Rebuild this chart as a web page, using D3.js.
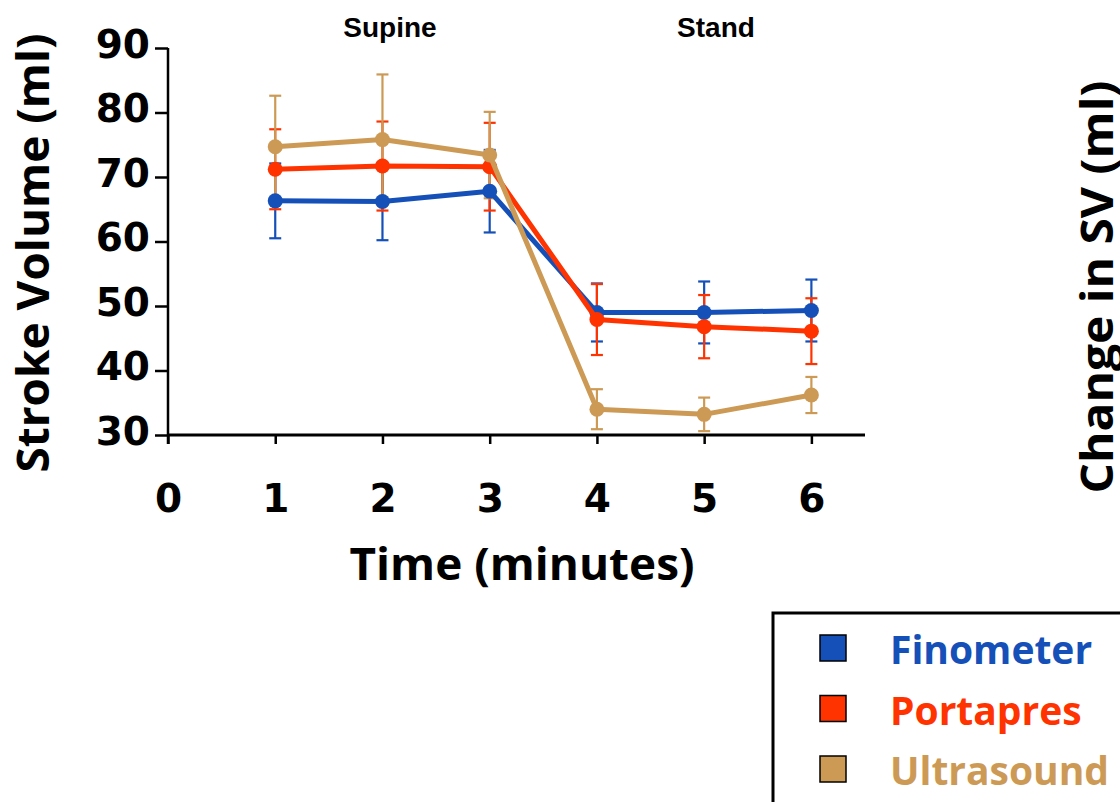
<!DOCTYPE html>
<html>
<head>
<meta charset="utf-8">
<script src="https://cdn.jsdelivr.net/npm/d3@7"></script>
<style>
  body { margin: 0; background: #fff; overflow: hidden; }
  svg { display: block; }
</style>
</head>
<body>
<svg id="chart" width="1120" height="802"></svg>
<script>
// values
const minutes = [1, 2, 3, 4, 5, 6];
const finometer = [66.3, 66.2, 67.8, 49.0, 49.0, 49.3];
const finometerErr = [5.8, 6.0, 6.4, 4.5, 4.8, 4.8];
const portapres = [71.2, 71.7, 71.6, 47.9, 46.8, 46.1];
const portapresErr = [6.2, 6.9, 6.8, 5.5, 4.9, 5.1];
const ultrasound = [74.7, 75.8, 73.4, 34.0, 33.2, 36.2];
const ultrasoundErr = [7.9, 10.1, 6.7, 3.1, 2.6, 2.8];
const xTicks = [0, 1, 2, 3, 4, 5, 6];
const yTicks = [30, 40, 50, 60, 70, 80, 90];

const series = [
  { name: "Finometer", color: "#1550b8", values: finometer, err: finometerErr },
  { name: "Portapres", color: "#ff3300", values: portapres, err: portapresErr },
  { name: "Ultrasound", color: "#cc9a55", values: ultrasound, err: ultrasoundErr }
];

const svg = d3.select("#chart");
const titleFont = "'Open Sans', Lato, sans-serif";
const tickFont = "'DejaVu Sans', sans-serif";
const labelFont = "'Liberation Sans', Arial, sans-serif";

const x = d3.scaleLinear().domain([0, 6.5]).range([168, 865]);
const y = d3.scaleLinear().domain([30, 90]).range([435, 48]);

// axes
const yAxis = svg.append("g")
  .attr("transform", `translate(${x(0)},0)`)
  .call(d3.axisLeft(y).tickValues(yTicks).tickSize(13).tickPadding(5));
yAxis.select(".domain").attr("d", `M0,${y(90)}V${y(30) + 9}`).attr("stroke-width", 2.5);
yAxis.selectAll(".tick line").attr("stroke-width", 2.5);

const xAxis = svg.append("g")
  .attr("transform", `translate(0,${y(30)})`)
  .call(d3.axisBottom(x).tickValues(xTicks).tickSize(9).tickPadding(40).tickFormat(d3.format("d")));
xAxis.select(".domain").attr("d", `M${x(0)},0H${x(6.5)}`).attr("stroke-width", 3);
xAxis.selectAll(".tick line").attr("stroke-width", 2.5);

svg.selectAll(".tick text")
  .attr("font-family", tickFont)
  .attr("font-weight", "bold")
  .attr("font-size", 39)
  .attr("fill", "#000");
yAxis.selectAll(".tick text").attr("dy", "0.24em");

// axis titles
svg.append("text")
  .attr("x", 522).attr("y", 580)
  .attr("text-anchor", "middle")
  .attr("font-family", titleFont).attr("font-weight", "bold").attr("font-size", 45)
  .attr("textLength", 345).attr("lengthAdjust", "spacingAndGlyphs")
  .text("Time (minutes)");

svg.append("text")
  .attr("transform", `translate(49,253) rotate(-90)`)
  .attr("text-anchor", "middle")
  .attr("font-family", titleFont).attr("font-weight", "bold").attr("font-size", 45)
  .attr("textLength", 439).attr("lengthAdjust", "spacingAndGlyphs")
  .text("Stroke Volume (ml)");

svg.append("text")
  .attr("transform", `translate(1113,287) rotate(-90)`)
  .attr("text-anchor", "middle")
  .attr("font-family", titleFont).attr("font-weight", "bold").attr("font-size", 45)
  .attr("textLength", 413).attr("lengthAdjust", "spacingAndGlyphs")
  .text("Change in SV  (ml)");

// phase labels
svg.append("text")
  .attr("x", 390).attr("y", 37)
  .attr("text-anchor", "middle")
  .attr("font-family", labelFont).attr("font-weight", "bold").attr("font-size", 28)
  .text("Supine");
svg.append("text")
  .attr("x", 716).attr("y", 37)
  .attr("text-anchor", "middle")
  .attr("font-family", labelFont).attr("font-weight", "bold").attr("font-size", 28)
  .text("Stand");

// error bars
const capW = 6;
series.forEach(s => {
  const g = svg.append("g").attr("stroke", s.color).attr("stroke-width", 2.2);
  minutes.forEach((m, i) => {
    const lo = y(s.values[i] - s.err[i]);
    const hi = y(s.values[i] + s.err[i]);
    const cx = x(m);
    g.append("line").attr("x1", cx).attr("x2", cx).attr("y1", lo).attr("y2", hi);
    g.append("line").attr("x1", cx - capW).attr("x2", cx + capW).attr("y1", lo).attr("y2", lo);
    g.append("line").attr("x1", cx - capW).attr("x2", cx + capW).attr("y1", hi).attr("y2", hi);
  });
});

// lines and markers
const line = d3.line().x((d, i) => x(minutes[i])).y(d => y(d));
series.forEach(s => {
  svg.append("path")
    .attr("d", line(s.values))
    .attr("fill", "none")
    .attr("stroke", s.color)
    .attr("stroke-width", 5)
    .attr("stroke-linejoin", "round");
  svg.append("g").selectAll("circle")
    .data(s.values)
    .join("circle")
    .attr("cx", (d, i) => x(minutes[i]))
    .attr("cy", d => y(d))
    .attr("r", 7.5)
    .attr("fill", s.color);
});

// legend
const legend = svg.append("g").attr("transform", "translate(773,613)");
legend.append("rect")
  .attr("x", 0).attr("y", 0).attr("width", 400).attr("height", 250)
  .attr("fill", "#fff").attr("stroke", "#000").attr("stroke-width", 3);
const item = legend.selectAll("g.item")
  .data(series)
  .join("g")
  .attr("class", "item")
  .attr("transform", (d, i) => `translate(0,${35 + i * 60.5})`);
item.append("rect")
  .attr("x", 47).attr("y", -13).attr("width", 26).attr("height", 26)
  .attr("fill", d => d.color).attr("stroke", "#000").attr("stroke-width", 1.5);
item.append("text")
  .attr("x", 117).attr("y", 16)
  .attr("font-family", titleFont).attr("font-weight", "bold").attr("font-size", 39)
  .attr("fill", d => d.color)
  .text(d => d.name);
</script>
</body>
</html>
